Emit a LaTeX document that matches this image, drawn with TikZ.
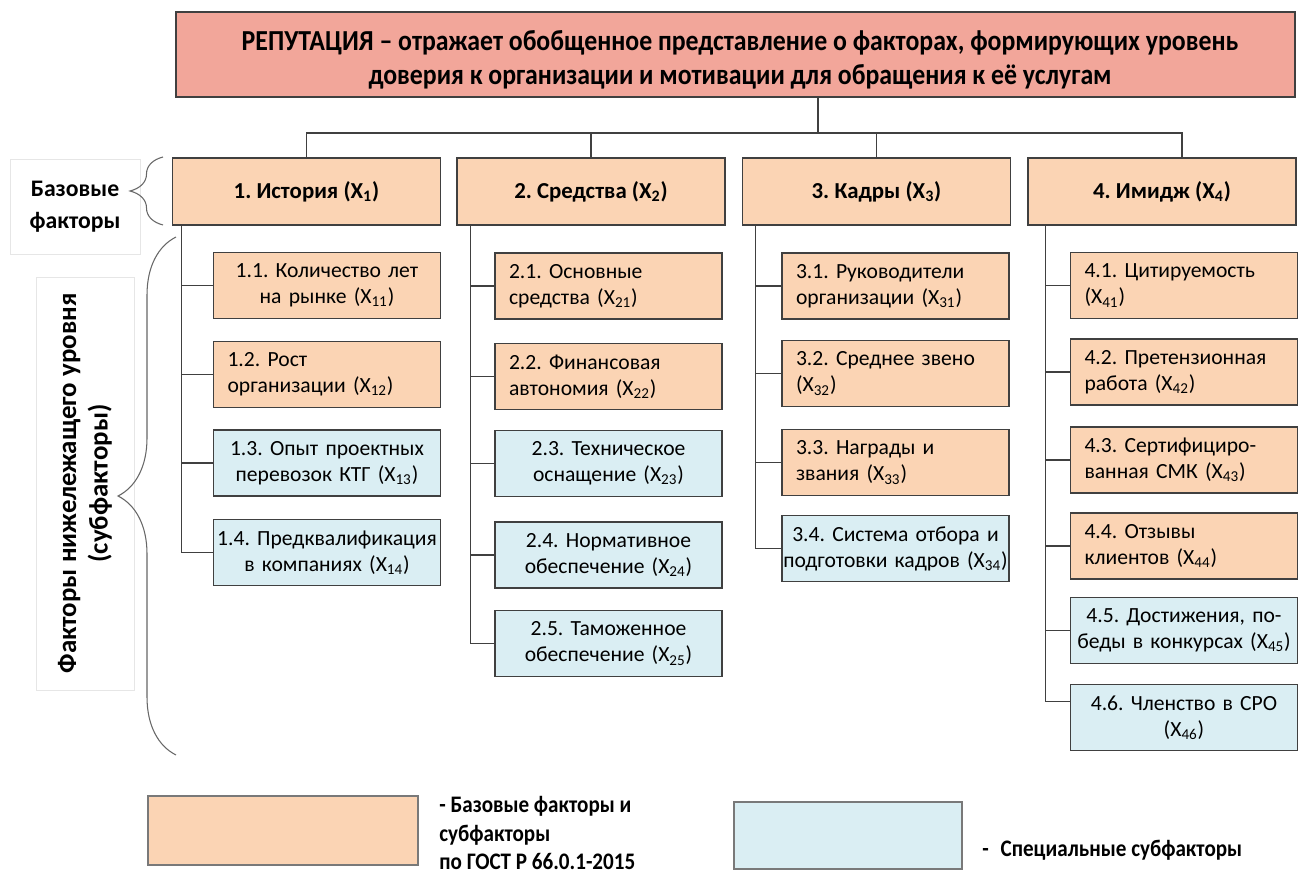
\documentclass[tikz,border=0pt]{standalone}
\usepackage{fontspec}
\setmainfont{Carlito}
\newfontfamily\condfont[FakeStretch=0.89]{Carlito}
\usepackage{tikz}
\usetikzlibrary{positioning, calc, decorations.pathreplacing}

\definecolor{repfill}{HTML}{F2A69A}
\definecolor{basefill}{HTML}{FBD4B4}
\definecolor{specfill}{HTML}{DAEEF3}
\definecolor{edgegray}{HTML}{404040}
\definecolor{framegray}{HTML}{E6E6E6}

% X with its index, as printed in the boxes
\newcommand{\xind}[1]{(X\textsubscript{#1})}

\begin{document}
\frenchspacing
\begin{tikzpicture}[
        x=0.02cm, y=-0.02cm,
        conn/.style={draw=edgegray, line width=0.7pt},
        curly/.style={draw=edgegray!80, line width=0.6pt, decorate},
        topbox/.style={draw=edgegray, line width=0.9pt, fill=repfill,
            minimum width=22.38cm, minimum height=1.7cm},
        toptext/.style={align=center, inner sep=0pt,
            font=\condfont\bfseries\fontsize{16.5}{19.3}\selectfont},
        basebox/.style={draw=edgegray, line width=0.9pt, fill=basefill,
            minimum width=5.36cm, minimum height=1.34cm,
            font=\bfseries\fontsize{13}{16}\selectfont},
        subbox/.style={draw=edgegray, line width=0.9pt,
            minimum width=4.54cm, minimum height=1.32cm, inner ysep=0pt,
            font=\fontsize{12.3}{14.8}\selectfont},
        lefttext/.style={inner xsep=0.28cm, text width=3.98cm, align=left},
        midtext/.style={inner xsep=0.01cm, text width=4.52cm, align=center},
        orangesub/.style={subbox, fill=basefill},
        bluesub/.style={subbox, fill=specfill},
        sidelabel/.style={draw=framegray, line width=0.5pt, align=center,
            font=\bfseries\fontsize{13.5}{18}\selectfont},
        legendtext/.style={align=left, inner sep=0pt,
            font=\condfont\bfseries\fontsize{13.5}{16.4}\selectfont}
    ]
    \useasboundingbox (0,0) rectangle (1301,874);

    % =========================================================================
    % 1. MAIN BOX AND BASE FACTORS
    % =========================================================================
    \node[topbox] (rep) at (735.5,54.5) {};
    \node[toptext] (reptext) at (740,60)
        {РЕПУТАЦИЯ – отражает обобщенное представление о факторах, формирующих уровень\\
         доверия к организации и мотивации для обращения к её услугам};

    \node[basebox] (b1) at (306.5,191.5) {1. История \xind{1}};
    \node[basebox] (b2) at (591,191.5) {2. Средства \xind{2}};
    \node[basebox] (b3) at (876.5,191.5) {3. Кадры \xind{3}};
    \node[basebox] (b4) at (1162,191.5) {4. Имидж \xind{4}};

    % =========================================================================
    % 2. SUBFACTORS (four columns)
    % =========================================================================

    % Column 1
    \node[orangesub, midtext] (s11) at (327,285.5) {1.1. Количество лет\\на рынке \xind{11}};
    \node[orangesub, lefttext] (s12) at (327,374.5) {1.2. Рост\\организации \xind{12}};
    \node[bluesub, midtext] (s13) at (327,463) {1.3. Опыт проектных\\перевозок КТГ \xind{13}};
    \node[bluesub, midtext] (s14) at (327,552.5) {1.4. Предквалификация\\в компаниях \xind{14}};

    % Column 2
    \node[orangesub, lefttext] (s21) at (608.5,286) {2.1. Основные\\средства \xind{21}};
    \node[orangesub, lefttext] (s22) at (608.5,376.5) {2.2. Финансовая\\автономия \xind{22}};
    \node[bluesub, midtext] (s23) at (608.5,463.5) {2.3. Техническое\\оснащение \xind{23}};
    \node[bluesub, midtext] (s24) at (608.5,555) {2.4. Нормативное\\обеспечение \xind{24}};
    \node[bluesub, midtext] (s25) at (608.5,643.5) {2.5. Таможенное\\обеспечение \xind{25}};

    % Column 3
    \node[orangesub, lefttext] (s31) at (895.5,286) {3.1. Руководители\\организации \xind{31}};
    \node[orangesub, lefttext] (s32) at (895.5,373.5) {3.2. Среднее звено\\\xind{32}};
    \node[orangesub, lefttext] (s33) at (895.5,462.5) {3.3. Награды и\\звания \xind{33}};
    \node[bluesub, midtext] (s34) at (895.5,548.5) {3.4. Система отбора и\\подготовки кадров \xind{34}};

    % Column 4
    \node[orangesub, lefttext] (s41) at (1184,285.5) {4.1. Цитируемость\\\xind{41}};
    \node[orangesub, lefttext] (s42) at (1184,372) {4.2. Претензионная\\работа \xind{42}};
    \node[orangesub, lefttext] (s43) at (1184,460) {4.3. Сертифициро-\\ванная СМК \xind{43}};
    \node[orangesub, lefttext] (s44) at (1184,546) {4.4. Отзывы\\клиентов \xind{44}};
    \node[bluesub, midtext] (s45) at (1184,630.5) {4.5. Достижения, по-\\беды в конкурсах \xind{45}};
    \node[bluesub, midtext] (s46) at (1184,717.5) {4.6. Членство в СРО\\\xind{46}};

    % =========================================================================
    % 3. CONNECTORS
    % =========================================================================
    \coordinate (bus) at (818,133);
    \draw[conn] (rep.south -| bus) -- (bus);
    \draw[conn] (bus) -| (b1.north);
    \draw[conn] (bus) -| (b2.north);
    \draw[conn] (bus) -| (b3.north);
    \draw[conn] (bus) -| ([xshift=0.4cm]b4.north);

    % Column 1 trunk
    \draw[conn] ([xshift=0.2cm]b1.south west) |- (s11.west);
    \draw[conn] ([xshift=0.2cm]b1.south west) |- (s12.west);
    \draw[conn] ([xshift=0.2cm]b1.south west) |- (s13.west);
    \draw[conn] ([xshift=0.2cm]b1.south west) |- (s14.west);

    % Column 2 trunk
    \draw[conn] ([xshift=0.28cm]b2.south west) |- (s21.west);
    \draw[conn] ([xshift=0.28cm]b2.south west) |- (s22.west);
    \draw[conn] ([xshift=0.28cm]b2.south west) |- (s23.west);
    \draw[conn] ([xshift=0.28cm]b2.south west) |- (s24.west);
    \draw[conn] ([xshift=0.28cm]b2.south west) |- (s25.west);

    % Column 3 trunk
    \draw[conn] ([xshift=0.28cm]b3.south west) |- (s31.west);
    \draw[conn] ([xshift=0.28cm]b3.south west) |- (s32.west);
    \draw[conn] ([xshift=0.28cm]b3.south west) |- (s33.west);
    \draw[conn] ([xshift=0.28cm]b3.south west) |- (s34.west);

    % Column 4 trunk
    \draw[conn] ([xshift=0.36cm]b4.south west) |- (s41.west);
    \draw[conn] ([xshift=0.36cm]b4.south west) |- (s42.west);
    \draw[conn] ([xshift=0.36cm]b4.south west) |- (s43.west);
    \draw[conn] ([xshift=0.36cm]b4.south west) |- (s44.west);
    \draw[conn] ([xshift=0.36cm]b4.south west) |- (s45.west);
    \draw[conn] ([xshift=0.36cm]b4.south west) |- (s46.172);

    % =========================================================================
    % 4. SIDE LABELS AND BRACES
    % =========================================================================
    \node[sidelabel, minimum width=2.6cm, minimum height=1.9cm] (baselbl) at (75,207)
        {Базовые\\факторы};
    \node[sidelabel, rotate=90, minimum width=8.26cm, minimum height=1.96cm,
          font=\bfseries\fontsize{15.3}{18}\selectfont] (sublbl) at (85,483.5)
        {Факторы нижележащего уровня\\(субфакторы)};

    \draw[curly, decoration={brace, amplitude=0.66cm}] (163,225) -- (163,157);
    \draw[curly, decoration={brace, amplitude=1.16cm}] (176,755) -- (176,237);

    % =========================================================================
    % 5. LEGEND
    % =========================================================================
    \node[draw=edgegray!70, line width=0.7pt, fill=basefill,
          minimum width=5.4cm, minimum height=1.38cm] (keybase) at (283,830.5) {};
    \node[draw=edgegray!70, line width=0.7pt, fill=specfill,
          minimum width=4.56cm, minimum height=1.34cm] (keyspec) at (848,835.5) {};

    \node[legendtext, anchor=west] (keybasetxt) at (439,833)
        {- Базовые факторы и\\субфакторы\\по ГОСТ Р 66.0.1-2015};
    \node[legendtext, anchor=west] (keyspectxt) at (982,850) {-\enspace Специальные субфакторы};

\end{tikzpicture}
\end{document}
